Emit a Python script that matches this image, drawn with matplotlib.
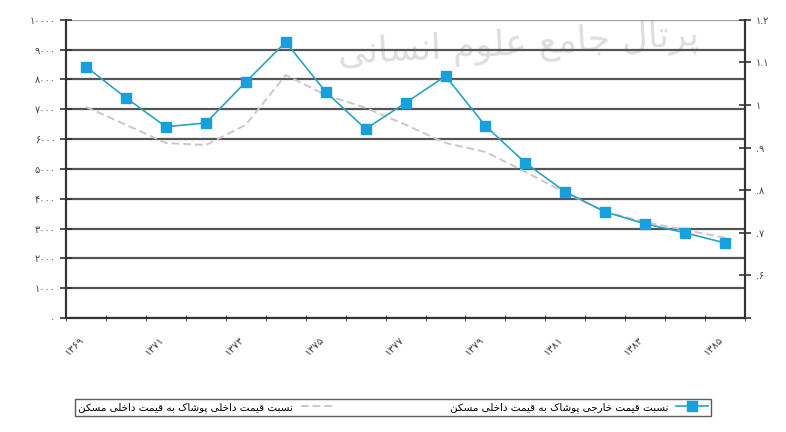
# -*- coding:utf-8 -*-
import numpy as np
import matplotlib
matplotlib.use('Agg')
import matplotlib.pyplot as plt
from matplotlib.lines import Line2D

# ---- data ----
years = ['۱۳۶۹', '۱۳۷۰', '۱۳۷۱', '۱۳۷۲', '۱۳۷۳', '۱۳۷۴', '۱۳۷۵', '۱۳۷۶', '۱۳۷۷',
         '۱۳۷۸', '۱۳۷۹', '۱۳۸۰', '۱۳۸۱', '۱۳۸۲', '۱۳۸۳', '۱۳۸۴', '۱۳۸۵']
ratio_foreign = [1.090, 1.017, 0.949, 0.958, 1.054, 1.148, 1.031, 0.944, 1.005,
                 1.068, 0.951, 0.864, 0.796, 0.749, 0.721, 0.700, 0.676]
ratio_domestic = [7080, 6480, 5870, 5800, 6480, 8150, 7480, 7050, 6480,
                  5870, 5570, 4900, 4200, 3560, 3220, 2950, 2690]
left_ticks = [0, 1000, 2000, 3000, 4000, 5000, 6000, 7000, 8000, 9000, 10000]
left_labels = ['۰', '۱۰۰۰', '۲۰۰۰', '۳۰۰۰', '۴۰۰۰', '۵۰۰۰', '۶۰۰۰', '۷۰۰۰', '۸۰۰۰', '۹۰۰۰', '۱۰۰۰۰']
right_ticks = [0.5, 0.6, 0.7, 0.8, 0.9, 1.0, 1.1, 1.2]
right_labels = ['', '.۶', '.۷', '.۸', '.۹', '۱', '۱.۱', '۱.۲']
label_foreign = 'نسبت قیمت خارجی پوشاک به قیمت داخلی مسکن'
label_domestic = 'نسبت قیمت داخلی پوشاک به قیمت داخلی مسکن'
watermark = 'پرتال جامع علوم انسانی'

# presentation forms: isolated, final, initial, medial (None = does not join forward)
FORMS = {
    'ا': ('\uFE8D', '\uFE8E', None, None),
    'ب': ('\uFE8F', '\uFE90', '\uFE91', '\uFE92'),
    'پ': ('\uFB56', '\uFB57', '\uFB58', '\uFB59'),
    'ت': ('\uFE95', '\uFE96', '\uFE97', '\uFE98'),
    'ج': ('\uFE9D', '\uFE9E', '\uFE9F', '\uFEA0'),
    'خ': ('\uFEA5', '\uFEA6', '\uFEA7', '\uFEA8'),
    'د': ('\uFEA9', '\uFEAA', None, None),
    'ر': ('\uFEAD', '\uFEAE', None, None),
    'س': ('\uFEB1', '\uFEB2', '\uFEB3', '\uFEB4'),
    'ش': ('\uFEB5', '\uFEB6', '\uFEB7', '\uFEB8'),
    'ع': ('\uFEC9', '\uFECA', '\uFECB', '\uFECC'),
    'ق': ('\uFED5', '\uFED6', '\uFED7', '\uFED8'),
    'ک': ('\uFB8E', '\uFB8F', '\uFB90', '\uFB91'),
    'ل': ('\uFEDD', '\uFEDE', '\uFEDF', '\uFEE0'),
    'م': ('\uFEE1', '\uFEE2', '\uFEE3', '\uFEE4'),
    'ن': ('\uFEE5', '\uFEE6', '\uFEE7', '\uFEE8'),
    'ه': ('\uFEE9', '\uFEEA', '\uFEEB', '\uFEEC'),
    'و': ('\uFEED', '\uFEEE', None, None),
    'ی': ('\uFBFC', '\uFBFD', '\uFBFE', '\uFBFF'),
}


def rtl(s):
    # crude shaping + reversal, matplotlib has no bidi support
    out = []
    for i, ch in enumerate(s):
        if ch not in FORMS:
            out.append(ch)
            continue
        prev = s[i - 1] if i > 0 else ''
        nxt = s[i + 1] if i + 1 < len(s) else ''
        iso, fin, ini, med = FORMS[ch]
        jp = prev in FORMS and FORMS[prev][2] is not None
        jn = nxt in FORMS and ini is not None
        if jp and jn:
            out.append(med)
        elif jp:
            out.append(fin)
        elif jn:
            out.append(ini)
        else:
            out.append(iso)
    return ''.join(out)[::-1]


plt.rcParams['font.family'] = ['DejaVu Sans']
fig = plt.figure(figsize=(7.86, 4.32), dpi=100)
ax = fig.add_axes([0.084, 0.264, 0.864, 0.690])
ax2 = ax.twinx()

x = np.arange(len(years))

# watermark behind everything
ax.text(0.66, 0.895, rtl(watermark), transform=fig.transFigure, fontsize=26,
        color='#dedede', ha='center', va='center', rotation=3, zorder=0, clip_on=False)

for v in left_ticks:
    ax.axhline(v, color='#a0a0a0' if v == 10000 else '#555555', lw=1.6, zorder=1)

ax.plot(x, ratio_domestic, color='#cdc7c7', lw=1.4, ls=(0, (4, 2)), zorder=2)
ax2.plot(x, ratio_foreign, color='#2aa3c9', lw=1.2, marker='s', markersize=7,
         markerfacecolor='#19a0dc', markeredgecolor='#19a0dc', zorder=3)

ax.set_xlim(-0.5, len(years) - 0.5)
ax.set_ylim(0, 10000)
ax2.set_ylim(0.5, 1.2)

ax.set_xticks(x[::2])
ax.set_xticklabels(years[::2], rotation=45, ha='right', fontsize=7.5, color='#444444')
ax.set_xticks(np.arange(-0.5, len(years), 1), minor=True)
ax.tick_params(axis='x', which='major', length=0, pad=12)
ax.tick_params(axis='x', which='minor', length=5, direction='inout', color='#333333')

ax.set_yticks(left_ticks)
ax.set_yticklabels(left_labels, fontsize=7, color='#444444')
ax.tick_params(axis='y', length=8, direction='inout', color='#333333', width=1.2)
ax2.set_yticks(right_ticks)
ax2.set_yticklabels(right_labels, fontsize=7, color='#444444')
ax2.tick_params(axis='y', length=8, direction='inout', color='#333333', width=1.2)

for a in (ax, ax2):
    a.spines['top'].set_visible(False)
    for s in ('left', 'right', 'bottom'):
        a.spines[s].set_color('#333333')
        a.spines[s].set_linewidth(1.5)

handles = [Line2D([], [], color='#cdc7c7', lw=1.4, ls=(0, (4, 2))),
           Line2D([], [], color='#2aa3c9', lw=1.2, marker='s', markersize=7,
                  markerfacecolor='#19a0dc', markeredgecolor='#19a0dc')]
leg = fig.legend(handles, [rtl(label_domestic), rtl(label_foreign)], ncol=2,
                 markerfirst=False, loc='center', mode='expand',
                 bbox_to_anchor=(0.089, 0.035, 0.822, 0.045), fontsize=7.5,
                 frameon=True, fancybox=False, edgecolor='#333333',
                 handlelength=3, borderpad=0.3)
leg.get_frame().set_linewidth(1.0)

fig.savefig('out.png', dpi=100)
